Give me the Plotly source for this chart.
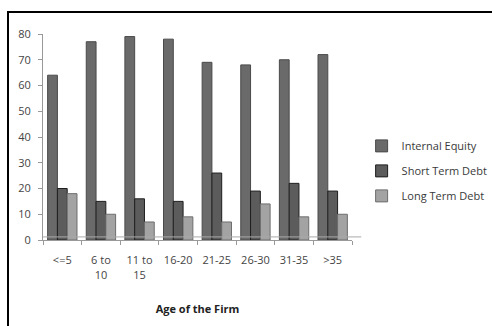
import plotly.graph_objects as go

# Capital structure by firm age (%)
age_groups = ["<=5", "6 to<br>10", "11 to<br>15", "16-20", "21-25", "26-30", "31-35", ">35"]
internal_equity = [64, 77, 79, 78, 69, 68, 70, 72]
short_term_debt = [20, 15, 16, 15, 26, 19, 22, 19]
long_term_debt = [18, 10, 7, 9, 7, 14, 9, 10]

series = [
    ("Internal Equity", internal_equity, "#6a6a6a", "#4a4a4a"),
    ("Short Term Debt", short_term_debt, "#5c5c5c", "#1e1e1e"),
    ("Long Term Debt", long_term_debt, "#a3a3a3", "#6e6e6e"),
]

W, H = 492, 326
L, R, T, B = 43, 140, 34, 86
PW, PH = W - L - R, H - T - B

fig = go.Figure()
for name, vals, fill, edge in series:
    fig.add_trace(go.Bar(
        x=age_groups, y=vals, name=name, legendgroup=name,
        marker=dict(color=fill, line=dict(color=edge, width=1)),
    ))

fig.update_layout(
    width=W, height=H,
    margin=dict(l=L, r=R, t=T, b=B, autoexpand=False),
    paper_bgcolor="white", plot_bgcolor="white",
    barmode="group", bargap=0.24, bargroupgap=0,
    font=dict(family="Open Sans, DejaVu Sans, sans-serif", size=10, color="#444"),
    showlegend=True,
    legend=dict(
        xref="container", yref="container",
        x=0.735, y=0.597, xanchor="left", yanchor="top",
        font=dict(size=11, color="#3a3a3a"),
        itemwidth=30, tracegroupgap=6,
        bgcolor="rgba(0,0,0,0)",
    ),
    xaxis=dict(
        type="category", tickson="boundaries", tickangle=0,
        ticks="outside", ticklen=4, tickcolor="#999",
        showline=True, linecolor="#999", linewidth=1,
        showgrid=False, tickfont=dict(size=11, color="#444"),
        ticklabelstandoff=10,
        title=dict(text="<b>Age of the Firm</b>", font=dict(size=11, color="#222"), standoff=24),
    ),
    yaxis=dict(
        range=[0, 80], dtick=10,
        ticks="outside", ticklen=4, tickcolor="#999",
        showline=True, linecolor="#999", linewidth=1,
        showgrid=False, zeroline=False,
        tickfont=dict(size=11, color="#444"),
        ticklabelstandoff=5,
    ),
    shapes=[
        # chart frame
        dict(type="rect", xref="paper", yref="paper",
             x0=(8 - L) / PW, x1=(W + 10 - L) / PW,
             y0=-(H + 10 - T - PH) / PH, y1=1 + (T - 12) / PH,
             line=dict(color="black", width=2), fillcolor="rgba(0,0,0,0)"),
        # floor slab edge
        dict(type="line", xref="paper", yref="y",
             x0=0, x1=1.03, y0=1.2, y1=1.2, line=dict(color="#aaa", width=1)),
    ],
)

fig.write_html("out.html")
